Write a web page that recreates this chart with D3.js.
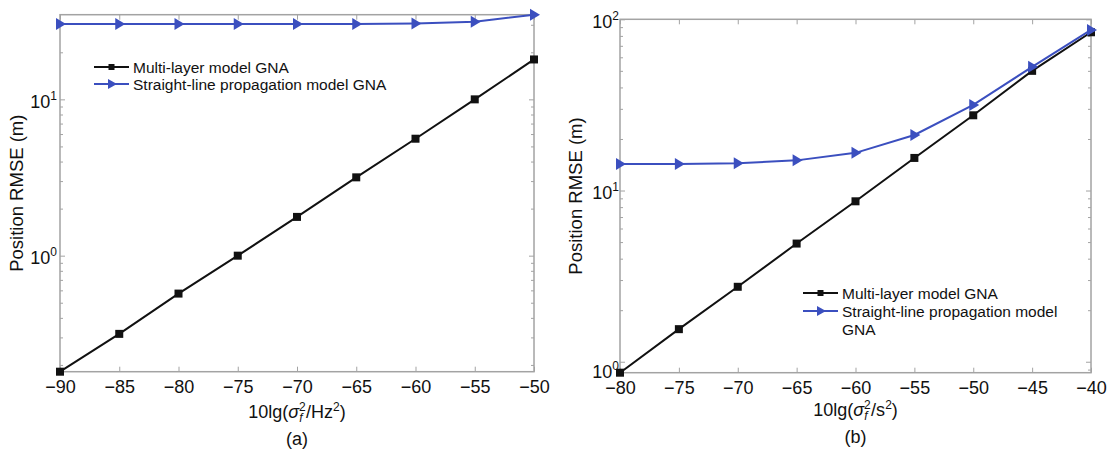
<!DOCTYPE html>
<html>
<head>
<meta charset="utf-8">
<script src="https://cdn.jsdelivr.net/npm/d3@7"></script>
<style>
  body { margin: 0; background: #fff; }
  svg text { font-family: "Liberation Sans", Arial, sans-serif; fill: #111; }
</style>
</head>
<body>
<svg id="chart" width="1107" height="452"></svg>
<script>
// panel (a)
var xA = [-90, -85, -80, -75, -70, -65, -60, -55, -50];
var multiA = [0.181, 0.316, 0.572, 1.0, 1.77, 3.17, 5.6, 10.0, 18.0];
var straightA = [30.3, 30.3, 30.3, 30.3, 30.3, 30.4, 30.6, 31.4, 34.8];
var xTicksA = [-90, -85, -80, -75, -70, -65, -60, -55, -50];
var yTicksA = [1, 10];
var yLimA = [0.181, 34.8];

// panel (b)
var xB = [-80, -75, -70, -65, -60, -55, -50, -45, -40];
var multiB = [0.863, 1.55, 2.74, 4.9, 8.65, 15.5, 27.5, 50.0, 84.0];
var straightB = [14.3, 14.3, 14.45, 15.0, 16.6, 21.1, 31.6, 52.8, 86.7];
var xTicksB = [-80, -75, -70, -65, -60, -55, -50, -45, -40];
var yTicksB = [1, 10, 100];
var yLimB = [0.863, 100];

var seriesNames = ["Multi-layer model GNA", "Straight-line propagation model GNA"];

var BLUE = "#3b4fbf";
var GRID = "#a3a3a3";

var svg = d3.select("#chart");

function minorTicks(lim) {
  var out = [];
  for (var e = -2; e <= 3; e++) {
    for (var m = 2; m <= 9; m++) {
      var v = m * Math.pow(10, e);
      if (v > lim[0] && v < lim[1]) out.push(v);
    }
  }
  return out;
}

function drawPanel(p) {
  var x = d3.scaleLinear().domain(d3.extent(p.xTicks)).range([p.left, p.right]);
  var y = d3.scaleLog().domain(p.yLim).range([p.bottom, p.top]);
  var g = svg.append("g");

  // inward ticks on all four sides
  var bottomAxis = d3.axisBottom(x).tickValues(p.xTicks).tickSize(-5).tickPadding(9)
    .tickFormat(function (d) { return d3.format("")(d).replace("-", "\u2212"); });
  var gb = g.append("g").attr("transform", "translate(0," + p.bottom + ")").call(bottomAxis);
  gb.selectAll("text").style("font-size", "18px").attr("dy", "0.66em");

  var topAxis = d3.axisTop(x).tickValues(p.xTicks).tickSize(-5).tickFormat("");
  g.append("g").attr("transform", "translate(0," + p.top + ")").call(topAxis);

  var minors = minorTicks(p.yLim);
  [["left", p.left, d3.axisLeft], ["right", p.right, d3.axisRight]].forEach(function (s) {
    g.append("g").attr("transform", "translate(" + s[1] + ",0)")
      .call(s[2](y).tickValues(p.yTicks).tickSize(-5).tickFormat(""));
    g.append("g").attr("transform", "translate(" + s[1] + ",0)")
      .call(s[2](y).tickValues(minors).tickSize(-3).tickFormat(""));
  });
  g.selectAll(".domain").remove();
  g.selectAll(".tick line").attr("stroke", GRID).attr("stroke-width", 1);

  // frame
  g.append("rect")
    .attr("x", p.left).attr("y", p.top)
    .attr("width", p.right - p.left).attr("height", p.bottom - p.top)
    .attr("fill", "none").attr("stroke", GRID).attr("stroke-width", 1.5);

  // y tick labels 10^n
  p.yTicks.forEach(function (v) {
    var t = g.append("text")
      .attr("x", p.left - p.ylabGap)
      .attr("y", y(v) + 8.5 + (p.ylabShift[v] || 0))
      .attr("text-anchor", "end")
      .style("font-size", "18px");
    t.append("tspan").text("10");
    t.append("tspan").attr("dy", -8).style("font-size", "12px").text(Math.round(Math.log10(v)));
  });

  // axis titles
  var cx = (p.left + p.right) / 2;
  var xt = g.append("text").attr("x", cx).attr("y", p.xTitleY)
    .attr("text-anchor", "middle").style("font-size", "18px");
  xt.append("tspan").text("10lg(");
  xt.append("tspan").style("font-style", "italic").text("\u03c3");
  xt.append("tspan").attr("dy", -7).style("font-size", "12px").text("2");
  xt.append("tspan").attr("dx", -6.5).attr("dy", 11).style("font-size", "12px").style("font-style", "italic").text("f");
  xt.append("tspan").attr("dx", 3.5).attr("dy", -4).text("/" + p.unit);
  xt.append("tspan").attr("dy", -7).style("font-size", "12px").text("2");
  xt.append("tspan").attr("dy", 7).text(")");

  g.append("text").attr("x", cx).attr("y", p.xTitleY + 27)
    .attr("text-anchor", "middle").style("font-size", "18px").text(p.tag);

  g.append("text")
    .attr("transform", "translate(" + p.yTitleX + "," + ((p.top + p.bottom) / 2) + ") rotate(-90)")
    .attr("text-anchor", "middle").style("font-size", "18.5px")
    .text("Position RMSE (m)");

  // series
  var line = d3.line().x(function (d) { return x(d[0]); }).y(function (d) { return y(d[1]); });
  var dataM = p.xs.map(function (v, i) { return [v, p.multi[i]]; });
  var dataS = p.xs.map(function (v, i) { return [v, p.straight[i]]; });

  var plot = svg.append("g");
  plot.append("path").datum(dataM).attr("d", line)
    .attr("fill", "none").attr("stroke", "#111").attr("stroke-width", 2);
  plot.selectAll(".sq").data(dataM).enter().append("rect")
    .attr("x", function (d) { return x(d[0]) - 4; })
    .attr("y", function (d) { return y(d[1]) - 4; })
    .attr("width", 8).attr("height", 8).attr("fill", "#111");

  plot.append("path").datum(dataS).attr("d", line)
    .attr("fill", "none").attr("stroke", BLUE).attr("stroke-width", 2);
  plot.selectAll(".tri").data(dataS).enter().append("path")
    .attr("d", "M-4,-6L6,0L-4,6Z")
    .attr("transform", function (d) { return "translate(" + x(d[0]) + "," + y(d[1]) + ")"; })
    .attr("fill", BLUE);

  // legend
  var lg = svg.append("g");
  var rows = [
    { color: "#111", mark: "sq", y: p.legY[0] },
    { color: BLUE, mark: "tri", y: p.legY[1] }
  ];
  rows.forEach(function (r) {
    lg.append("line").attr("x1", p.legX).attr("x2", p.legX + 35)
      .attr("y1", r.y).attr("y2", r.y).attr("stroke", r.color).attr("stroke-width", 2);
    if (r.mark === "sq") {
      lg.append("rect").attr("x", p.legX + 14.5).attr("y", r.y - 3).attr("width", 6).attr("height", 6).attr("fill", r.color);
    } else {
      lg.append("path").attr("d", "M-4,-5L5,0L-4,5Z")
        .attr("transform", "translate(" + (p.legX + 18) + "," + r.y + ")").attr("fill", r.color);
    }
  });
  p.legendLines.forEach(function (txt, i) {
    lg.append("text").attr("x", p.legX + 39).attr("y", p.legLineY[i] + 6)
      .style("font-size", "15.5px").text(txt);
  });
}

drawPanel({
  xs: xA, multi: multiA, straight: straightA, xTicks: xTicksA, yTicks: yTicksA, yLim: yLimA,
  left: 60, right: 534, top: 14.7, bottom: 371.7,
  ylabGap: 3, ylabShift: {},
  xTitleY: 418, yTitleX: 23, unit: "Hz", tag: "(a)",
  legX: 94, legY: [67, 84],
  legendLines: [seriesNames[0], seriesNames[1]], legLineY: [67, 84]
});

drawPanel({
  xs: xB, multi: multiB, straight: straightB, xTicks: xTicksB, yTicks: yTicksB, yLim: yLimB,
  left: 620, right: 1091, top: 19.3, bottom: 372.7,
  ylabGap: 1, ylabShift: { 1: 8 },
  xTitleY: 416, yTitleX: 582, unit: "s", tag: "(b)",
  legX: 803, legY: [293, 311],
  legendLines: ["Multi-layer model GNA", "Straight-line propagation model", "GNA"], legLineY: [293, 311, 329]
});
</script>
</body>
</html>
